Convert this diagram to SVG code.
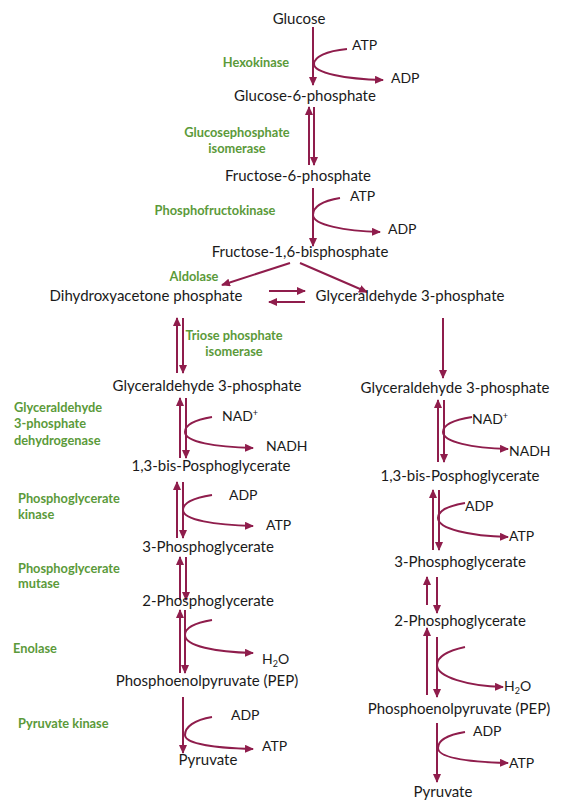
<svg xmlns="http://www.w3.org/2000/svg" width="564" height="800" viewBox="0 0 564 800">
<style>
.m{font-family:Lato,"Open Sans","Liberation Sans",sans-serif;font-size:15px;fill:#1a1a1a;text-anchor:middle}
.c{font-family:Lato,"Open Sans","Liberation Sans",sans-serif;font-size:14px;fill:#1a1a1a}
.e{font-family:Lato,"Open Sans","Liberation Sans",sans-serif;font-size:12.8px;font-weight:bold;fill:#5b9a3a}
.em{text-anchor:middle}
.a{fill:none;stroke:#8f1d4c;stroke-width:2;marker-end:url(#ah)}
</style>
<defs>
<marker id="ah" viewBox="0 0 9 8" refX="8" refY="4" markerWidth="9" markerHeight="8" markerUnits="userSpaceOnUse" orient="auto">
<path d="M0,0 L9,4 L0,8 z" fill="#8f1d4c"/>
</marker>
</defs>
<rect width="564" height="800" fill="#ffffff"/>

<g id="connectors">
<path class="a" d="M313,27 V85"/>
<path class="a" d="M347,49 C326,51 314,57 314,64 C314,73 345,79 383,80"/>
<path class="a" d="M309,165 V107"/>
<path class="a" d="M314,107 V165"/>
<path class="a" d="M313,188 V246"/>
<path class="a" d="M340,198 C322,201 313,207 313,215 C313,225 345,231 380,232"/>
<path class="a" d="M290,263 L222,285"/>
<path class="a" d="M300,263 L367,292"/>
<path class="a" d="M269,291 H305"/>
<path class="a" d="M305,302 H269"/>
<path class="a" d="M177,373 V318"/>
<path class="a" d="M183,318 V373"/>
<path class="a" d="M443,318 V378"/>
<path class="a" d="M180,458 V398"/>
<path class="a" d="M186,398 V458"/>
<path class="a" d="M212,417 C194,420 185,425 185,432 C185,442 215,447 253,448"/>
<path class="a" d="M177,538 V482"/>
<path class="a" d="M183,482 V538"/>
<path class="a" d="M212,495 C193,498 183,503 183,510 C183,520 215,525 253,526"/>
<path class="a" d="M180,600 V557"/>
<path class="a" d="M186,557 V600"/>
<path class="a" d="M180,673 V610"/>
<path class="a" d="M185,610 V673"/>
<path class="a" d="M212,620 C194,623 185,628 185,635 C185,646 215,652 253,653"/>
<path class="a" d="M183,697 V753"/>
<path class="a" d="M212,717 C194,720 185,727 185,735 C185,744 215,748 253,749"/>
<path class="a" d="M438,462 V400"/>
<path class="a" d="M444,400 V462"/>
<path class="a" d="M472,417 C453,420 443,425 443,432 C443,442 472,448 508,449"/>
<path class="a" d="M433,550 V490"/>
<path class="a" d="M439,490 V550"/>
<path class="a" d="M465,503 C447,506 438,511 438,518 C438,529 470,536 508,537"/>
<path class="a" d="M427,605 V577"/>
<path class="a" d="M437,577 V613"/>
<path class="a" d="M427,695 V628"/>
<path class="a" d="M437,637 V697"/>
<path class="a" d="M465,647 C447,651 437,657 437,665 C437,677 468,686 503,687"/>
<path class="a" d="M437,723 V782"/>
<path class="a" d="M465,732 C447,735 438,741 438,748 C438,758 470,762 508,763"/>
</g>

<g id="n-glucose"><text class="m" x="299" y="24">Glucose</text></g>
<g id="n-atp1"><text class="c" x="352" y="50">ATP</text></g>
<g id="e-hexokinase"><text class="e em" x="256" y="67">Hexokinase</text></g>
<g id="n-adp1"><text class="c" x="391" y="83">ADP</text></g>
<g id="n-g6p"><text class="m" x="305" y="101">Glucose-6-phosphate</text></g>
<g id="e-gpi"><text class="e em" x="237" y="137">Glucosephosphate</text><text class="e em" x="237" y="153">isomerase</text></g>
<g id="n-f6p"><text class="m" x="298" y="181">Fructose-6-phosphate</text></g>
<g id="n-atp2"><text class="c" x="350" y="201">ATP</text></g>
<g id="e-pfk"><text class="e em" x="215" y="215">Phosphofructokinase</text></g>
<g id="n-adp2"><text class="c" x="388" y="234">ADP</text></g>
<g id="n-f16bp"><text class="m" x="300" y="257">Fructose-1,6-bisphosphate</text></g>
<g id="e-aldolase"><text class="e em" x="194" y="281">Aldolase</text></g>
<g id="n-dhap"><text class="m" x="146" y="301">Dihydroxyacetone phosphate</text></g>
<g id="n-g3p-top"><text class="m" x="410" y="301">Glyceraldehyde 3-phosphate</text></g>
<g id="e-tpi"><text class="e em" x="234" y="340">Triose phosphate</text><text class="e em" x="234" y="356">isomerase</text></g>

<g id="n-g3p-l"><text class="m" x="207" y="391">Glyceraldehyde 3-phosphate</text></g>
<g id="e-gapdh"><text class="e" x="14" y="412">Glyceraldehyde</text><text class="e" x="14" y="428">3-phosphate</text><text class="e" x="14" y="445">dehydrogenase</text></g>
<g id="n-nad-l"><text class="c" x="222" y="421">NAD<tspan font-size="9" dy="-5">+</tspan></text></g>
<g id="n-nadh-l"><text class="c" x="266" y="451">NADH</text></g>
<g id="n-bpg-l"><text class="m" x="211" y="471">1,3-bis-Posphoglycerate</text></g>
<g id="e-pgk"><text class="e" x="18" y="503">Phosphoglycerate</text><text class="e" x="18" y="519">kinase</text></g>
<g id="n-adp-l1"><text class="c" x="229" y="500">ADP</text></g>
<g id="n-atp-l1"><text class="c" x="266" y="530">ATP</text></g>
<g id="n-3pg-l"><text class="m" x="208" y="552">3-Phosphoglycerate</text></g>
<g id="e-pgm"><text class="e" x="18" y="573">Phosphoglycerate</text><text class="e" x="18" y="588">mutase</text></g>
<g id="n-2pg-l"><text class="m" x="208" y="606">2-Phosphoglycerate</text></g>
<g id="e-enolase"><text class="e" x="13" y="653">Enolase</text></g>
<g id="n-h2o-l"><text class="c" x="262" y="664">H<tspan font-size="9" dy="3">2</tspan><tspan dy="-3">O</tspan></text></g>
<g id="n-pep-l"><text class="m" x="207" y="686">Phosphoenolpyruvate (PEP)</text></g>
<g id="e-pk"><text class="e" x="18" y="728">Pyruvate kinase</text></g>
<g id="n-adp-l2"><text class="c" x="231" y="720">ADP</text></g>
<g id="n-atp-l2"><text class="c" x="262" y="751">ATP</text></g>
<g id="n-pyr-l"><text class="m" x="208" y="765">Pyruvate</text></g>

<g id="n-g3p-r"><text class="m" x="455" y="393">Glyceraldehyde 3-phosphate</text></g>
<g id="n-nad-r"><text class="c" x="472" y="424">NAD<tspan font-size="9" dy="-5">+</tspan></text></g>
<g id="n-nadh-r"><text class="c" x="509" y="456">NADH</text></g>
<g id="n-bpg-r"><text class="m" x="460" y="481">1,3-bis-Posphoglycerate</text></g>
<g id="n-adp-r1"><text class="c" x="465" y="511">ADP</text></g>
<g id="n-atp-r1"><text class="c" x="509" y="541">ATP</text></g>
<g id="n-3pg-r"><text class="m" x="460" y="567">3-Phosphoglycerate</text></g>
<g id="n-2pg-r"><text class="m" x="460" y="626">2-Phosphoglycerate</text></g>
<g id="n-h2o-r"><text class="c" x="504" y="691">H<tspan font-size="9" dy="3">2</tspan><tspan dy="-3">O</tspan></text></g>
<g id="n-pep-r"><text class="m" x="459" y="714">Phosphoenolpyruvate (PEP)</text></g>
<g id="n-adp-r2"><text class="c" x="473" y="736">ADP</text></g>
<g id="n-atp-r2"><text class="c" x="509" y="768">ATP</text></g>
<g id="n-pyr-r"><text class="m" x="443" y="797">Pyruvate</text></g>
</svg>
